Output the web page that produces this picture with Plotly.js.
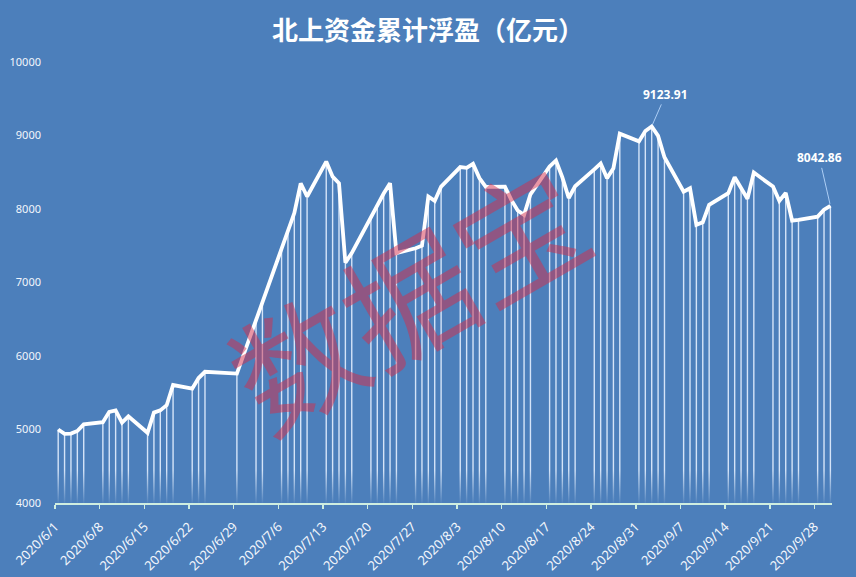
<!DOCTYPE html>
<html><head><meta charset="utf-8">
<script src="https://cdn.plot.ly/plotly-3.0.1.min.js"></script>
<style>html,body{margin:0;padding:0;background:#4c7fbb;overflow:hidden}</style>
</head><body><div id="chart" style="width:856px;height:577px"></div>
<script>
// ---- data ----
const dates = [
 '2020-06-01','2020-06-02','2020-06-03','2020-06-04','2020-06-05',
 '2020-06-08','2020-06-09','2020-06-10','2020-06-11','2020-06-12',
 '2020-06-15','2020-06-16','2020-06-17','2020-06-18','2020-06-19',
 '2020-06-22','2020-06-23','2020-06-24','2020-06-29',
 '2020-07-02','2020-07-03',
 '2020-07-06','2020-07-07','2020-07-08','2020-07-09','2020-07-10',
 '2020-07-13','2020-07-14','2020-07-15','2020-07-16','2020-07-17',
 '2020-07-20','2020-07-21','2020-07-22','2020-07-23','2020-07-24',
 '2020-07-27','2020-07-28','2020-07-29','2020-07-30','2020-07-31',
 '2020-08-03','2020-08-04','2020-08-05','2020-08-06','2020-08-07',
 '2020-08-10','2020-08-11','2020-08-12','2020-08-13','2020-08-14',
 '2020-08-17','2020-08-18','2020-08-19','2020-08-20','2020-08-21',
 '2020-08-24','2020-08-25','2020-08-26','2020-08-27','2020-08-28',
 '2020-08-31','2020-09-01','2020-09-02','2020-09-03','2020-09-04',
 '2020-09-07','2020-09-08','2020-09-09','2020-09-10','2020-09-11',
 '2020-09-14','2020-09-15','2020-09-16','2020-09-17','2020-09-18',
 '2020-09-21','2020-09-22','2020-09-23','2020-09-24','2020-09-25',
 '2020-09-28','2020-09-29','2020-09-30'
];
const values = [
 5000,4940,4945,4980,5070,
 5100,5240,5260,5095,5180,
 4955,5230,5260,5330,5605,
 5555,5700,5785,5760,
 6500,6750,
 7470,7730,7945,8350,8170,
 8645,8440,8350,7270,7400,
 7890,8040,8210,8350,7400,
 7466,7500,8170,8110,8305,
 8570,8560,8614,8420,8300,
 8305,8124,7980,7920,8200,
 8578,8660,8430,8150,8310,
 8540,8620,8420,8555,9025,
 8920,9060,9123.91,8995,8705,
 8237,8283,7785,7820,8056,
 8215,8433,8290,8140,8496,
 8305,8110,8220,7842,7851,
 7896,7990,8042.86
];
const yTickVals = [4000,5000,6000,7000,8000,9000,10000];
const yTickText = ['4000','5000','6000','7000','8000','9000','10000'];
const chartTitle = '北上资金累计浮盈（亿元）';
const watermark = '数据宝';

// ---- style ----
const BG = '#4c7fbb';
const yMin = 4000, yMax = 10000;
const DAY = 86400000;

// drop lines from each point down to the axis
const dropX = [], dropY = [];
dates.forEach((d, i) => { dropX.push(d, d, null); dropY.push(yMin, values[i], null); });

const traces = [
  { x: dropX, y: dropY, type: 'scatter', mode: 'lines', xperiod: DAY, xperiodalignment: 'middle',
    line: { color: 'rgba(228,240,255,0.9)', width: 1.4 }, hoverinfo: 'skip', showlegend: false },
  { x: ['2020-05-30', '2020-10-03'], y: [4450, 4450], type: 'scatter', mode: 'none', fill: 'tozeroy',
    fillgradient: { type: 'vertical', start: yMin, stop: 4450,
      colorscale: [[0, 'rgba(76,127,187,0.95)'], [1, 'rgba(76,127,187,0)']] },
    hoverinfo: 'skip', showlegend: false },
  { x: dates, y: values, type: 'scatter', mode: 'lines', xperiod: DAY, xperiodalignment: 'middle',
    line: { color: '#ffffff', width: 3.8 }, showlegend: false }
];

// labels for the peak and the last value
let iMax = 0; values.forEach((v, i) => { if (v > values[iMax]) iMax = i; });
const iLast = values.length - 1;
const mid = d => new Date(new Date(d + 'T00:00:00Z').getTime() + DAY / 2).toISOString().replace('T', ' ').slice(0, 19);
const fmt = v => v.toFixed(2);

const annotations = [
  { x: mid(dates[iMax]), y: values[iMax], text: '<b>' + fmt(values[iMax]) + '</b>', showarrow: true,
    arrowhead: 0, arrowwidth: 1, arrowcolor: 'rgba(190,220,255,0.85)', ax: 14, ay: -32, standoff: 2,
    font: { family: 'Noto Sans, sans-serif', size: 12, color: '#ffffff' } },
  { x: mid(dates[iLast]), y: values[iLast], text: '<b>' + fmt(values[iLast]) + '</b>', showarrow: true,
    arrowhead: 0, arrowwidth: 1, arrowcolor: 'rgba(190,220,255,0.85)', ax: -11, ay: -48, standoff: 2,
    font: { family: 'Noto Sans, sans-serif', size: 12, color: '#ffffff' } },
  { xref: 'paper', yref: 'paper', x: 0.452, y: 0.475, text: watermark, showarrow: false, textangle: -30,
    font: { family: 'Noto Sans CJK SC', size: 128, color: 'rgba(212,45,75,0.5)' } }
];

const layout = {
  width: 856, height: 577,
  paper_bgcolor: BG, plot_bgcolor: BG,
  margin: { l: 55, r: 24, t: 62, b: 74 },
  title: { text: '<b>' + chartTitle + '</b>', xref: 'container', x: 0.5, y: 1 - 31 / 577, yanchor: 'middle',
    font: { family: 'Noto Sans CJK SC', size: 26, color: '#ffffff' } },
  xaxis: { type: 'date', range: ['2020-06-01', '2020-09-30 18:00'], tick0: '2020-06-01', dtick: 7 * DAY,
    tickformat: '%Y/%-m/%-d', tickangle: -45, ticks: 'outside', ticklen: 4, tickwidth: 1.5,
    tickcolor: '#cfeee0', showline: true, linecolor: '#cfeee0', linewidth: 2, showgrid: false, zeroline: false,
    ticklabelstandoff: 5,
    tickfont: { family: 'Noto Sans, sans-serif', size: 13, color: '#f2f6fc' } },
  yaxis: { range: [yMin, yMax], tickvals: yTickVals, ticktext: yTickText, showgrid: false, zeroline: false,
    showline: false, ticks: '', ticklabelstandoff: 13,
    tickfont: { family: 'Noto Sans, sans-serif', size: 11, color: '#f2f6fc' } },
  annotations: annotations,
  showlegend: false
};

Plotly.newPlot('chart', traces, layout, { displayModeBar: false, staticPlot: true });
</script></body></html>
